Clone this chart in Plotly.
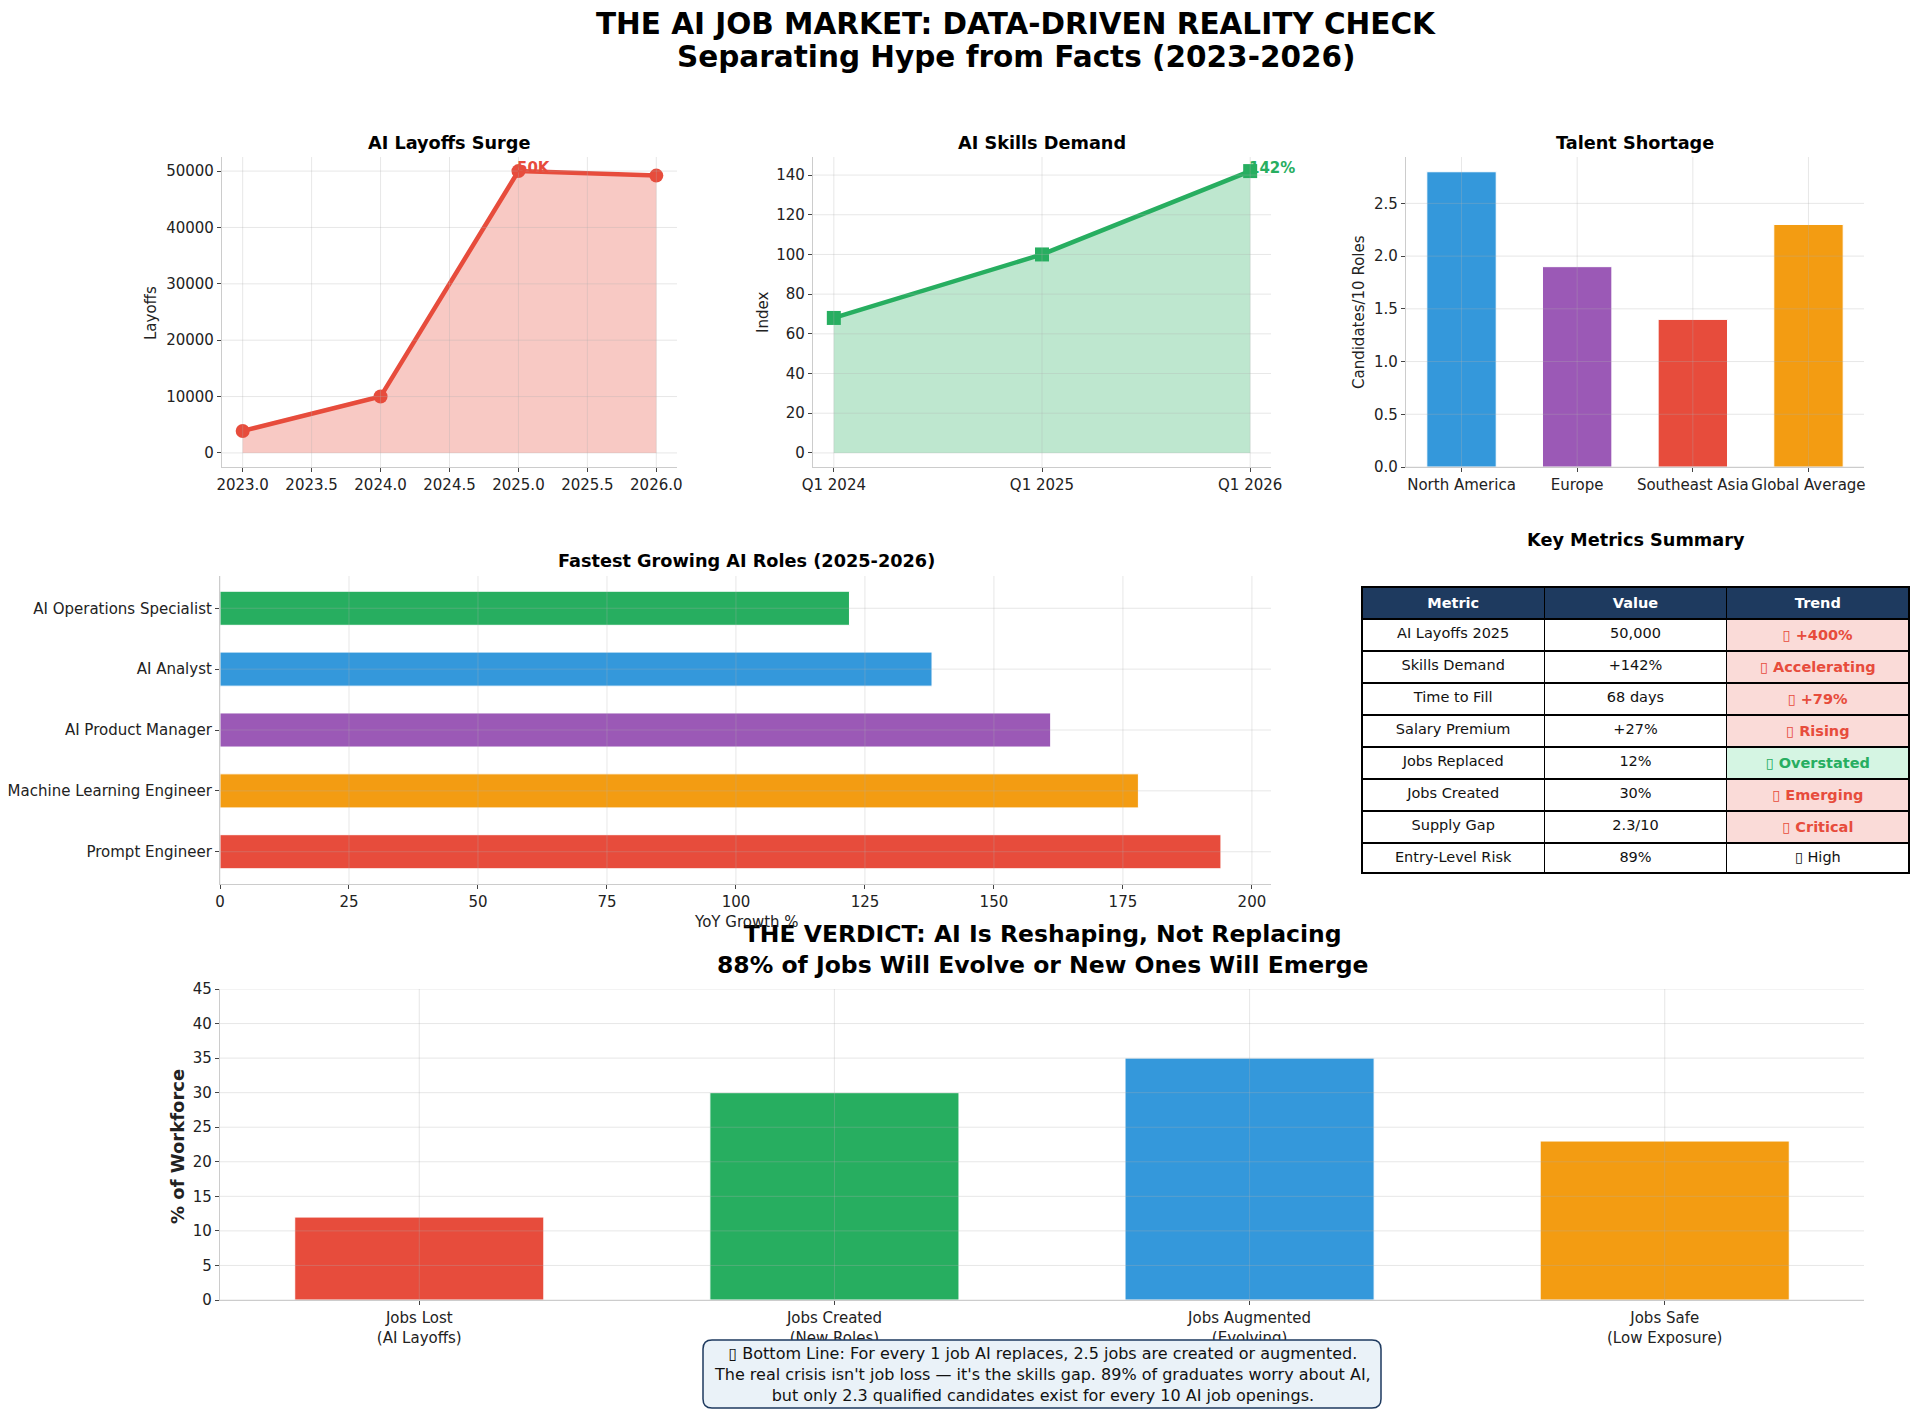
import plotly.graph_objects as go

# ---- data ----
layoff_years = [2023, 2024, 2025, 2026]
layoffs = [3900, 10000, 50000, 49200]

demand_quarters = ["Q1 2024", "Q1 2025", "Q1 2026"]
demand_index = [68, 100, 142]

regions = ["North America", "Europe", "Southeast Asia", "Global Average"]
candidates_per_10 = [2.8, 1.9, 1.4, 2.3]

roles = ["Prompt Engineer", "Machine Learning Engineer", "AI Product Manager",
         "AI Analyst", "AI Operations Specialist"]
role_growth = [194, 178, 161, 138, 122]

metric_names = ["AI Layoffs 2025", "Skills Demand", "Time to Fill", "Salary Premium",
                "Jobs Replaced", "Jobs Created", "Supply Gap", "Entry-Level Risk"]
metric_values = ["50,000", "+142%", "68 days", "+27%", "12%", "30%", "2.3/10", "89%"]
metric_trends = ["▯ +400%", "▯ Accelerating", "▯ +79%", "▯ Rising",
                 "▯ Overstated", "▯ Emerging", "▯ Critical", "▯ High"]
trend_kind = ["bad", "bad", "bad", "bad", "good", "bad", "bad", "plain"]

outcome_labels = ["Jobs Lost<br>(AI Layoffs)", "Jobs Created<br>(New Roles)",
                  "Jobs Augmented<br>(Evolving)", "Jobs Safe<br>(Low Exposure)"]
outcome_share = [12, 30, 35, 23]

RED, GREEN, BLUE, PURPLE, ORANGE = "#e74c3c", "#27ae60", "#3498db", "#9b59b6", "#f39c12"
FONT = "DejaVu Sans"
W, H = 1920, 1411
OFF = 8  # page body margin


def px(x):
    return (x - OFF) / W


def py(y):
    return 1 - (y - OFF) / H


fig = go.Figure()

# AI layoffs line
fig.add_trace(go.Scatter(
    x=layoff_years, y=layoffs, mode="lines+markers", fill="tozeroy",
    fillcolor="rgba(231,76,60,0.3)", line=dict(color=RED, width=4.5),
    marker=dict(size=14, color=RED), xaxis="x", yaxis="y", showlegend=False))

# skills demand line
fig.add_trace(go.Scatter(
    x=demand_quarters, y=demand_index, mode="lines+markers", fill="tozeroy",
    fillcolor="rgba(39,174,96,0.3)", line=dict(color=GREEN, width=4.5),
    marker=dict(size=14, color=GREEN, symbol="square"), xaxis="x2", yaxis="y2", showlegend=False))

# talent shortage bars
fig.add_trace(go.Bar(
    x=regions, y=candidates_per_10, width=0.6,
    marker=dict(color=[BLUE, PURPLE, RED, ORANGE], line=dict(color="white", width=1)),
    xaxis="x3", yaxis="y3", showlegend=False))

# growing roles bars
fig.add_trace(go.Bar(
    x=role_growth, y=roles, orientation="h", width=0.56,
    marker=dict(color=[RED, ORANGE, PURPLE, BLUE, GREEN], line=dict(color="white", width=1)),
    xaxis="x4", yaxis="y4", showlegend=False))

# verdict bars
fig.add_trace(go.Bar(
    x=outcome_labels, y=outcome_share, width=0.6,
    marker=dict(color=[RED, GREEN, BLUE, ORANGE], line=dict(color="white", width=1)),
    xaxis="x5", yaxis="y5", showlegend=False))

# key metrics table
trend_fill = {"bad": "#fadbd8", "good": "#d5f5e3", "plain": "white"}
trend_color = {"bad": RED, "good": GREEN, "plain": "#111111"}
trend_text = [f"<b>{t}</b>" if k != "plain" else t for t, k in zip(metric_trends, trend_kind)]
fig.add_trace(go.Table(
    domain=dict(x=[px(1362), px(1909)], y=[py(905), py(587)]),
    columnwidth=[1, 1, 1],
    header=dict(values=["<b>Metric</b>", "<b>Value</b>", "<b>Trend</b>"],
                fill_color="#1e3a5f", line=dict(color="black", width=1.5),
                font=dict(family=FONT, size=14.5, color="white"), height=30, align="center"),
    cells=dict(values=[metric_names, metric_values, trend_text],
               fill_color=[["white"] * 8, ["white"] * 8, [trend_fill[k] for k in trend_kind]],
               line=dict(color="black", width=1.5),
               font=dict(family=FONT, size=14.5,
                         color=[["#111111"] * 8, ["#111111"] * 8, [trend_color[k] for k in trend_kind]]),
               height=30, align="center")))

TICK = 15


def axis(domain, anchor, rng, **kw):
    d = dict(domain=domain, anchor=anchor, range=rng, showgrid=False, zeroline=False,
             showline=True, linecolor="#cccccc", linewidth=1.3, ticks="outside", ticklen=4,
             tickcolor="#444444", tickfont=dict(family=FONT, size=TICK, color="#222222"),
             automargin=False, fixedrange=True)
    d.update(kw)
    return d


x_top = [[px(222), px(677)], [px(813), px(1271)], [px(1406), px(1864)]]
y_top = [py(467), py(157)]

layout_axes = dict(
    xaxis=axis(x_top[0], "y", [2022.85, 2026.15], dtick=0.5, tick0=2023, tickformat=".1f"),
    yaxis=axis(y_top, "x", [-2500, 52500], dtick=10000, tickformat="d"),
    xaxis2=axis(x_top[1], "y2", [-0.1, 2.1], type="category"),
    yaxis2=axis(y_top, "x2", [-7.1, 149.1], dtick=20),
    xaxis3=axis(x_top[2], "y3", [-0.48, 3.48], type="category"),
    yaxis3=axis(y_top, "x3", [0, 2.94], dtick=0.5, tickformat=".1f"),
    xaxis4=axis([px(220), px(1271)], "y4", [0, 203.7], dtick=25),
    yaxis4=axis([py(884), py(576)], "x4", [-0.53, 4.53], type="category"),
    xaxis5=axis([px(220), px(1864)], "y5", [-0.48, 3.48], type="category"),
    yaxis5=axis([py(1300), py(989)], "x5", [0, 45], dtick=5),
)

# grid drawn over the marks, like the source figure
grid_line = dict(color="rgba(176,176,176,0.3)", width=1)


def grid(n, xs, ys):
    sx = "x" if n == 1 else f"x{n}"
    sy = "y" if n == 1 else f"y{n}"
    out = []
    for v in xs:
        out.append(dict(type="line", layer="above", xref=sx, yref=sy + " domain",
                        x0=v, x1=v, y0=0, y1=1, line=grid_line))
    for v in ys:
        out.append(dict(type="line", layer="above", xref=sx + " domain", yref=sy,
                        x0=0, x1=1, y0=v, y1=v, line=grid_line))
    return out


shapes = []
shapes += grid(1, [2023 + 0.5 * i for i in range(7)], list(range(0, 50001, 10000)))
shapes += grid(2, demand_quarters, list(range(0, 141, 20)))
shapes += grid(3, regions, [0.5 * i for i in range(6)])
shapes += grid(4, list(range(0, 201, 25)), roles)
shapes += grid(5, outcome_labels, list(range(0, 46, 5)))

# rounded box behind the bottom-line note
bx0, bx1, by0, by1 = px(703), px(1381), py(1408), py(1340)
rx, ry = 9 / W, 9 / H
box_path = (f"M {bx0 + rx},{by0} L {bx1 - rx},{by0} Q {bx1},{by0} {bx1},{by0 + ry} "
            f"L {bx1},{by1 - ry} Q {bx1},{by1} {bx1 - rx},{by1} L {bx0 + rx},{by1} "
            f"Q {bx0},{by1} {bx0},{by1 - ry} L {bx0},{by0 + ry} Q {bx0},{by0} {bx0 + rx},{by0} Z")
shapes.append(dict(type="path", path=box_path, xref="paper", yref="paper", layer="above",
                   fillcolor="#eaf2f8", line=dict(color="#1e3a5f", width=1.5)))


def title_ann(text, x, y, size=17.7):
    return dict(text=f"<b>{text}</b>", x=px(x), y=py(y), xref="paper", yref="paper",
                showarrow=False, xanchor="center", yanchor="middle",
                font=dict(family=FONT, size=size, color="black"))


def ylab(text, x, y, size=TICK):
    return dict(text=text, x=px(x), y=py(y), xref="paper", yref="paper", showarrow=False,
                textangle=-90, xanchor="center", yanchor="middle",
                font=dict(family=FONT, size=size, color="#222222"))


annotations = [
    title_ann("THE AI JOB MARKET: DATA-DRIVEN REALITY CHECK", 1016, 24, size=29.5),
    title_ann("Separating Hype from Facts (2023-2026)", 1016, 57, size=29.5),
    title_ann("AI Layoffs Surge", 449, 143),
    title_ann("AI Skills Demand", 1042, 143),
    title_ann("Talent Shortage", 1635, 143),
    title_ann("Fastest Growing AI Roles (2025-2026)", 746, 561),
    title_ann("Key Metrics Summary", 1636, 540),
    dict(text="<b>THE VERDICT: AI Is Reshaping, Not Replacing<br>88% of Jobs Will Evolve or New Ones Will Emerge</b>",
         x=px(1042), y=py(949), xref="paper", yref="paper", showarrow=False,
         xanchor="center", yanchor="middle", font=dict(family=FONT, size=23.5, color="black")),
    ylab("Layoffs", 151, 313),
    ylab("Index", 763, 313),
    ylab("Candidates/10 Roles", 1359, 312),
    ylab("<b>% of Workforce</b>", 177, 1147, size=18),
    dict(text="YoY Growth %", x=px(746), y=py(922), xref="paper", yref="paper", showarrow=False,
         xanchor="center", yanchor="middle", font=dict(family=FONT, size=TICK, color="#222222")),
    # point labels
    dict(text="<b>50K</b>", x=layoff_years[2], y=layoffs[2], xref="x", yref="y", showarrow=False,
         xanchor="left", yanchor="bottom", yshift=-8, xshift=-3,
         font=dict(family=FONT, size=TICK, color=RED)),
    dict(text="<b>142%</b>", x=demand_quarters[2], y=demand_index[2], xref="x2", yref="y2",
         showarrow=False, xanchor="left", yanchor="bottom", yshift=-8, xshift=-3,
         font=dict(family=FONT, size=TICK, color=GREEN)),
    # bottom line note
    dict(text="▯ Bottom Line: For every 1 job AI replaces, 2.5 jobs are created or augmented.<br>"
              "The real crisis isn't job loss — it's the skills gap. 89% of graduates worry about AI,<br>"
              "but only 2.3 qualified candidates exist for every 10 AI job openings.",
         x=px(1042), y=py(1374), xref="paper", yref="paper", showarrow=False,
         xanchor="center", yanchor="middle", align="center",
         font=dict(family=FONT, size=16, color="#111111")),
]

fig.update_layout(
    width=W, height=H,
    margin=dict(l=0, r=0, t=0, b=0),
    paper_bgcolor="white", plot_bgcolor="white",
    font=dict(family=FONT, color="#222222"),
    showlegend=False,
    shapes=shapes,
    annotations=annotations,
    **layout_axes,
)

fig.write_html("out.html")
